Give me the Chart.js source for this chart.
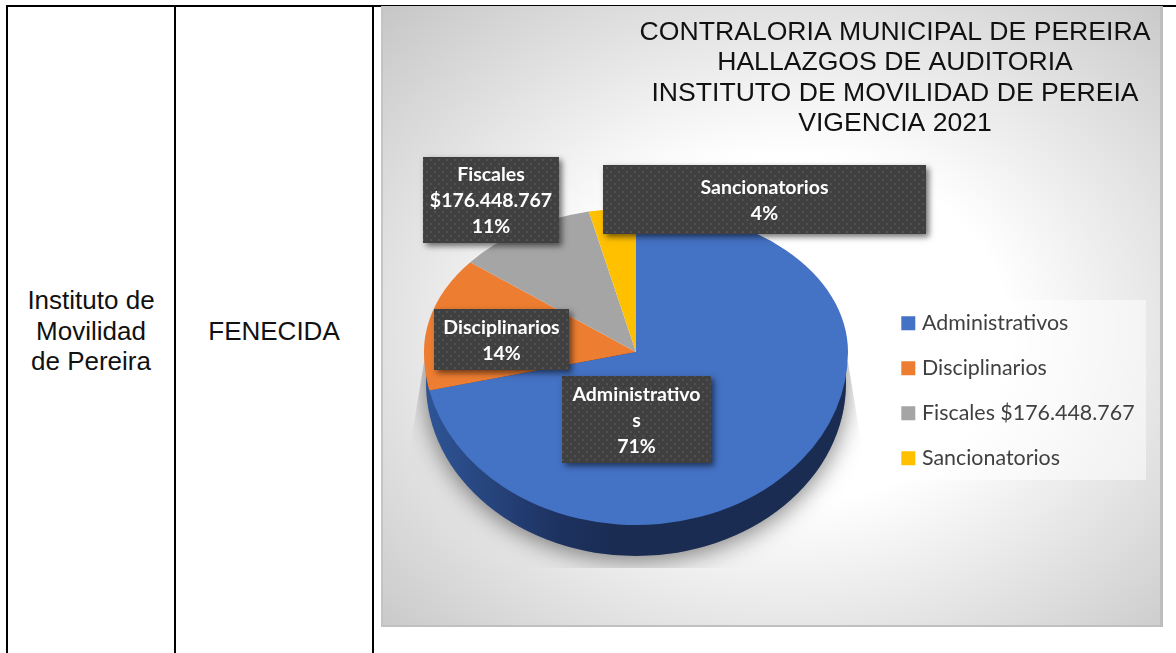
<!DOCTYPE html>
<html>
<head>
<meta charset="utf-8">
<script src="https://cdn.jsdelivr.net/npm/chart.js@4"></script>
<style>
html,body{margin:0;padding:0;background:#fff;width:1176px;height:653px;overflow:hidden}
.rule{position:absolute;background:#000}
.cell{position:absolute;font-family:"Liberation Sans",Arial,sans-serif;font-size:26px;line-height:30.5px;color:#111;text-align:center;white-space:nowrap}
#panel{position:absolute;left:381px;top:6px;width:782px;height:621px;
 background:radial-gradient(ellipse farthest-corner at 52% 52%,#fff 38%,#c6c6c6 100%);
 box-shadow:inset 2px 0 0 #c4c4c4,inset -3px 0 0 #bdbdbd,inset 0 -2px 0 #c0c0c0}
canvas{position:absolute;left:0;top:0}
</style>
</head>
<body>
<div class="rule" style="left:6px;top:5px;width:1170px;height:2px"></div>
<div class="rule" style="left:6px;top:5px;width:2px;height:648px"></div>
<div class="rule" style="left:174px;top:5px;width:2px;height:648px"></div>
<div class="rule" style="left:372px;top:5px;width:2px;height:648px"></div>
<div class="cell" style="left:8px;top:285px;width:166px">Instituto de<br>Movilidad<br>de Pereira</div>
<div class="cell" style="left:176px;top:316px;width:196px">FENECIDA</div>
<div id="panel"><canvas id="c" width="782" height="621"></canvas></div>
<script>
const categories = ['Administrativos', 'Disciplinarios', 'Fiscales $176.448.767', 'Sancionatorios'];
const hallazgos = [20, 4, 3, 1];
const sliceColors = ['#4472c4', '#ed7d31', '#a5a5a5', '#ffc000'];
const titleLines = ['CONTRALORIA MUNICIPAL DE PEREIRA', 'HALLAZGOS DE AUDITORIA', 'INSTITUTO DE MOVILIDAD DE PEREIA', 'VIGENCIA 2021'];
const labelLines = [['Administrativo', 's'], ['Disciplinarios'], ['Fiscales', '$176.448.767'], ['Sancionatorios']];

// label callout boxes, relative to the pie centre
const labelBoxes = [
  {dx: -74, dy: 24, w: 149, h: 87},
  {dx: -202, dy: -43, w: 135, h: 61},
  {dx: -213, dy: -195, w: 136, h: 86},
  {dx: -33, dy: -187, w: 323, h: 69}
];
const PANEL_TOP = 134, FACE_SIZE = 424, FACE_LEFT = 43;
const kUp = 144 / 212, kDown = 173 / 212, DEPTH = 31;

function dotPattern(ctx) {
  const p = document.createElement('canvas');
  p.width = 8; p.height = 8;
  const g = p.getContext('2d');
  g.fillStyle = '#404040'; g.fillRect(0, 0, 8, 8);
  g.fillStyle = '#525252';
  g.fillRect(1, 1, 2, 2); g.fillRect(5, 5, 2, 2);
  return ctx.createPattern(p, 'repeat');
}

const pie3d = {
  id: 'pie3d',
  afterLayout(chart) {
    // the pie takes a fixed square of the panel; title and legend sit elsewhere
    Object.assign(chart.chartArea, {left: FACE_LEFT, right: FACE_LEFT + FACE_SIZE, top: PANEL_TOP, bottom: PANEL_TOP + FACE_SIZE, width: FACE_SIZE, height: FACE_SIZE});
    const t = chart.titleBlock;
    t.left = 2 * 514 - t.right;
    const l = chart.legend, w = l.width, h = l.height;
    l.left = 500.7; l.right = 500.7 + w; l.top = 283; l.bottom = 283 + h;
  },
  beforeDraw(chart) {
    const c = chart.ctx;
    c.save();
    c.fillStyle = 'rgba(255,255,255,0.5)';
    c.fillRect(509, 294, 256, 180);
    c.restore();
  },
  beforeDatasetsDraw(chart) {
    const c = chart.ctx, meta = chart.getDatasetMeta(0);
    const a = meta.data[0], cx = a.x, cy = a.y, r = a.outerRadius;

    const wall = () => {
      c.beginPath();
      c.moveTo(cx - r + 2, cy);
      c.lineTo(cx - r + 2, cy + DEPTH);
      c.ellipse(cx, cy + DEPTH, r - 2, r * kDown, 0, Math.PI, 0, true);
      c.lineTo(cx + r - 2, cy);
      c.closePath();
    };

    // soft shadow, cut off by a tapered hard-edged shape
    const bottom = cy + r * kDown + DEPTH + 12;
    c.save();
    c.beginPath();
    c.moveTo(cx - r, cy + 10);
    c.lineTo(cx - r - 13, cy + 90);
    c.lineTo(cx - r - 13, bottom - 40);
    c.lineTo(cx - 120, bottom);
    c.lineTo(cx + 120, bottom);
    c.lineTo(cx + r + 13, bottom - 40);
    c.lineTo(cx + r + 13, cy + 90);
    c.lineTo(cx + r, cy + 10);
    c.closePath();
    c.clip();
    c.shadowColor = 'rgba(0,0,0,0.5)';
    c.shadowBlur = 24;
    c.shadowOffsetY = 4;
    c.fillStyle = '#888';
    wall(); c.fill();
    c.restore();

    // side wall
    const g = c.createLinearGradient(cx - r, 0, cx + r, 0);
    g.addColorStop(0, '#2f5597');
    g.addColorStop(0.32, '#1d3260');
    g.addColorStop(0.45, '#1a2c52');
    g.addColorStop(1, '#1a2c52');
    c.save();
    c.fillStyle = g;
    wall(); c.fill();
    c.restore();

    // top face: each half of the pie flattened about its own apex
    c.save();
    c.beginPath(); c.rect(0, 0, chart.width, cy + 0.5); c.clip();
    c.translate(cx, cy); c.scale(1, kUp); c.translate(-cx, -cy);
    meta.controller.draw();
    c.restore();
    c.save();
    c.beginPath(); c.rect(0, cy, chart.width, chart.height); c.clip();
    c.translate(cx, cy); c.scale(1, kDown); c.translate(-cx, -cy);
    meta.controller.draw();
    c.restore();
    return false;
  },
  afterDraw(chart) {
    const c = chart.ctx, a = chart.getDatasetMeta(0).data[0];
    const total = hallazgos.reduce((s, v) => s + v, 0);
    const pat = dotPattern(c);
    hallazgos.forEach((v, i) => {
      const b = labelBoxes[i], x = a.x + b.dx, y = a.y + b.dy;
      c.save();
      c.shadowColor = 'rgba(0,0,0,0.55)';
      c.shadowBlur = 6; c.shadowOffsetX = 3; c.shadowOffsetY = 3;
      c.fillStyle = '#404040';
      c.fillRect(x, y, b.w, b.h);
      c.restore();
      c.save();
      c.fillStyle = pat;
      c.fillRect(x, y, b.w, b.h);
      c.fillStyle = '#fff';
      c.font = 'bold 19.5px Lato, sans-serif';
      c.textAlign = 'center';
      c.textBaseline = 'middle';
      const lines = labelLines[i].concat(Math.round(v / total * 100) + '%');
      const lh = 26, y0 = y + b.h / 2 + 1 - (lines.length - 1) * lh / 2;
      lines.forEach((t, j) => c.fillText(t, x + b.w / 2, y0 + j * lh));
      c.restore();
    });
  }
};

new Chart(document.getElementById('c'), {
  type: 'pie',
  data: {
    labels: categories,
    datasets: [{data: hallazgos, backgroundColor: sliceColors, borderWidth: 0, hoverOffset: 0, hoverBorderWidth: 0}]
  },
  options: {
    responsive: false,
    animation: false,
    events: [],
    rotation: 0,
    plugins: {
      tooltip: {enabled: false},
      title: {
        display: true,
        position: 'top',
        text: titleLines,
        color: '#111',
        font: {family: '"Liberation Sans", Arial, sans-serif', size: 26.6, weight: 'normal', lineHeight: 30.5 / 26.6},
        padding: {top: 11, bottom: 1}
      },
      legend: {
        display: true,
        position: 'right',
        align: 'start',
        labels: {
          color: '#404040',
          font: {family: 'Lato, sans-serif', size: 21.4},
          boxWidth: 6,
          boxHeight: 6,
          padding: 23.6,
          generateLabels(chart) {
            return Chart.overrides.pie.plugins.legend.labels.generateLabels(chart)
              .map(l => ({...l, strokeStyle: l.fillStyle, lineWidth: 8}));
          }
        }
      }
    }
  },
  plugins: [pie3d]
});
</script>
</body>
</html>
